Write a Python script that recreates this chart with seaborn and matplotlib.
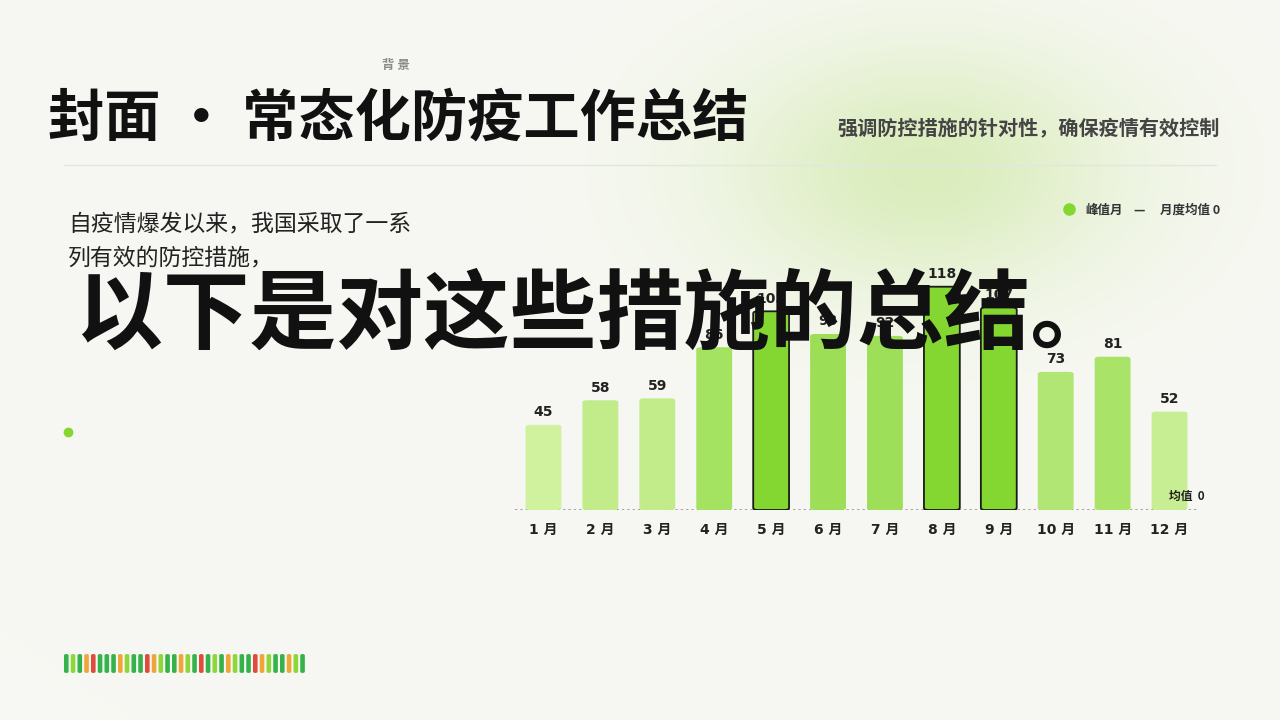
import numpy as np
import pandas as pd
import matplotlib.pyplot as plt
import seaborn as sns
from matplotlib.colors import LinearSegmentedColormap, to_rgb
from matplotlib.patches import FancyBboxPatch

# chart data
months = ["1 月", "2 月", "3 月", "4 月", "5 月", "6 月", "7 月", "8 月", "9 月", "10 月", "11 月", "12 月"]
values = [45, 58, 59, 86, 105, 93, 92, 118, 107, 73, 81, 52]
peak_months = ["5 月", "8 月", "9 月"]
mean_value = 0  # the source shows "均值 0"

stripe_colors = ["g", "l", "g", "o", "r", "g", "g", "g", "o", "l", "g", "g", "r", "o", "l", "g",
                 "g", "o", "l", "g", "r", "g", "l", "g", "o", "l", "g", "g", "r", "o", "l", "g",
                 "g", "o", "l", "g"]
stripe_map = {"g": "#36b24a", "l": "#8fd63a", "o": "#f0a53a", "r": "#e04a3f"}

BG = "#f7f8f3"
FONT = ["Noto Sans CJK SC", "DejaVu Sans"]
NUM_FONT = ["DejaVu Sans", "Noto Sans CJK SC"]

sns.set_theme(style="white")
plt.rcParams["font.family"] = FONT

fig = plt.figure(figsize=(12.8, 7.2), dpi=100)
fig.patch.set_facecolor(BG)

# background glow
bg_ax = fig.add_axes([0, 0, 1, 1], zorder=-10)
W, H = 1280, 720
yy, xx = np.mgrid[0:H, 0:W]
d = np.sqrt(((xx - 925) / 200.0) ** 2 + ((yy - 170) / 125.0) ** 2)
a = np.exp(-d ** 2 * 1.0)
base = np.array(to_rgb(BG))
glow = np.array(to_rgb("#dbedbd"))
img = base[None, None, :] * (1 - a[..., None]) + glow[None, None, :] * a[..., None]
bg_ax.imshow(img, extent=[0, W, H, 0], aspect="auto")
bg_ax.set_xlim(0, W)
bg_ax.set_ylim(H, 0)
bg_ax.axis("off")

# bar chart
ax = fig.add_axes([515 / W, 1 - 510 / H, 683 / W, 246 / H])
ax.set_facecolor("none")
cmap = LinearSegmentedColormap.from_list("g", ["#d0f19d", "#9cdf57"])
normal = [v for m, v in zip(months, values) if m not in peak_months]
lo, hi = min(normal), max(normal)
palette = {}
for m, v in zip(months, values):
    palette[m] = "#84d630" if m in peak_months else cmap((v - lo) / (hi - lo))

df = pd.DataFrame({"month": months, "value": values})
sns.barplot(data=df, x="month", y="value", hue="month", palette=palette,
            width=0.63, legend=False, ax=ax, saturation=1)

# rounded bars
for patch, m, v in zip(list(ax.patches), months, values):
    x0, y0 = patch.get_x(), patch.get_y()
    w, h = patch.get_width(), patch.get_height()
    peak = m in peak_months
    fb = FancyBboxPatch((x0, y0), w, h,
                        boxstyle="round,pad=0,rounding_size=0.08",
                        mutation_aspect=14,
                        facecolor=palette[m], edgecolor="#1a1a1a" if peak else "none",
                        linewidth=1.3 if peak else 0, zorder=3)
    patch.remove()
    ax.add_patch(fb)
    ax.text(x0 + w / 2, v + 3, str(v), ha="center", va="bottom",
            fontsize=10, fontweight="bold", color="#222222", family=NUM_FONT, zorder=4)

ax.axhline(mean_value, color="#8c8c8c", linestyle=(0, (1.5, 2)), linewidth=1.1, zorder=2)
ax.text(11.62, mean_value + 4, "均值  0", ha="right", va="bottom", fontsize=8.5,
        fontweight="bold", color="#222222", zorder=5)
ax.set_xlim(-0.5, 11.5)
ax.set_ylim(0, 130)
ax.set_xlabel("")
ax.set_ylabel("")
ax.set_yticks([])
ax.tick_params(axis="x", length=0, pad=9)
for lab in ax.get_xticklabels():
    lab.set_fontweight("bold")
    lab.set_fontsize(10)
    lab.set_color("#222222")
    lab.set_family(NUM_FONT)
for s in ax.spines.values():
    s.set_visible(False)

# texts
def fx(px):
    return px / W

def fy(py):
    return 1 - py / H

fig.text(fx(396), fy(66), "背 景", ha="center", va="center", fontsize=9,
         fontweight="bold", color="#8a8a8a")
fig.text(fx(48), fy(119), "封面 · 常态化防疫工作总结", ha="left", va="center",
         fontsize=40.5, fontweight="heavy", color="#111111")
fig.text(fx(1220), fy(129), "强调防控措施的针对性，确保疫情有效控制", ha="right", va="center",
         fontsize=14.5, fontweight="bold", color="#444444")
fig.add_artist(plt.Line2D([fx(64), fx(1216)], [fy(165), fy(165)], color="#e3e5df", linewidth=1))

fig.text(fx(68), fy(224), "自疫情爆发以来，我国采取了一系", ha="left", va="center",
         fontsize=16.5, color="#222222")
fig.text(fx(68), fy(258), "列有效的防控措施，", ha="left", va="center",
         fontsize=16.5, color="#222222")
fig.text(fx(76), fy(316), "以下是对这些措施的总结。", ha="left", va="center",
         fontsize=62.5, fontweight="heavy", color="#111111", zorder=20)

# legend
fig.add_artist(plt.Line2D([fx(1069)], [fy(209)], marker="o", markersize=8,
                          color="#84d630", linestyle="none"))
fig.text(fx(1085), fy(210), "峰值月", ha="left", va="center", fontsize=9,
         fontweight="bold", color="#333333")
fig.text(fx(1133), fy(210), "—", ha="left", va="center", fontsize=9,
         fontweight="bold", color="#333333")
fig.text(fx(1160), fy(210), "月度均值 0", ha="left", va="center", fontsize=9,
         fontweight="bold", color="#333333")

# decoration
fig.add_artist(plt.Line2D([fx(68)], [fy(432)], marker="o", markersize=6,
                          color="#84d630", linestyle="none"))
for i, c in enumerate(stripe_colors):
    x = 64 + i * 6.75
    fig.add_artist(FancyBboxPatch((fx(x), fy(673)), fx(4.6), 19 / H,
                                  boxstyle="round,pad=0,rounding_size=0.002",
                                  facecolor=stripe_map[c], edgecolor="none",
                                  transform=fig.transFigure))

fig.savefig("out.png", dpi=100, facecolor=BG)
